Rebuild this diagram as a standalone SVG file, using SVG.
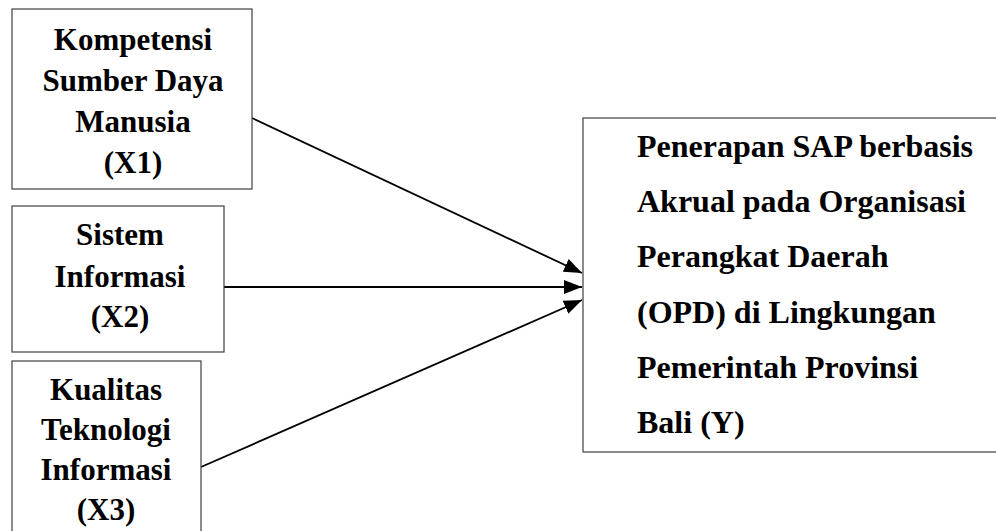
<svg xmlns="http://www.w3.org/2000/svg" width="996" height="531" viewBox="0 0 996 531">
  <style>
    .box { fill: #ffffff; stroke: #404040; stroke-width: 1.2; }
    .lbl { font-family: "Liberation Serif", "Times New Roman", serif; font-weight: bold; font-size: 31px; fill: #000000; }
    .big { font-size: 32px; }
    .mid { text-anchor: middle; }
    .edge { stroke: #000000; stroke-width: 1.8; fill: none; marker-end: url(#arrow); }
  </style>
  <defs>
    <marker id="arrow" markerUnits="userSpaceOnUse" markerWidth="20" markerHeight="16" refX="18" refY="7" orient="auto">
      <path d="M0,0 L18,7 L0,14 Z" fill="#000000"/>
    </marker>
  </defs>
  <rect width="996" height="531" fill="#ffffff"/>

  <g id="connectors">
    <line class="edge" x1="252" y1="118" x2="582" y2="273"/>
    <line class="edge" x1="224" y1="287" x2="582" y2="287"/>
    <line class="edge" x1="201" y1="467" x2="582" y2="300"/>
  </g>

  <g id="x1">
    <rect class="box" x="12" y="9" width="240" height="180"/>
    <text class="lbl mid" x="133" y="50">Kompetensi</text>
    <text class="lbl mid" x="133" y="91">Sumber Daya</text>
    <text class="lbl mid" x="133" y="132">Manusia</text>
    <text class="lbl mid" x="133" y="173">(X1)</text>
  </g>

  <g id="x2">
    <rect class="box" x="12" y="206" width="212" height="146"/>
    <text class="lbl mid" x="120" y="245">Sistem</text>
    <text class="lbl mid" x="120" y="287">Informasi</text>
    <text class="lbl mid" x="120" y="327">(X2)</text>
  </g>

  <g id="x3">
    <rect class="box" x="12" y="361" width="189" height="190"/>
    <text class="lbl mid" x="106" y="400">Kualitas</text>
    <text class="lbl mid" x="106" y="440">Teknologi</text>
    <text class="lbl mid" x="106" y="480">Informasi</text>
    <text class="lbl mid" x="106" y="520">(X3)</text>
  </g>

  <g id="y">
    <rect class="box" x="583" y="118" width="430" height="334"/>
    <text class="lbl big" x="637" y="157">Penerapan SAP berbasis</text>
    <text class="lbl big" x="637" y="212">Akrual pada Organisasi</text>
    <text class="lbl big" x="637" y="267">Perangkat Daerah</text>
    <text class="lbl big" x="637" y="323">(OPD) di Lingkungan</text>
    <text class="lbl big" x="637" y="378">Pemerintah Provinsi</text>
    <text class="lbl big" x="637" y="433">Bali (Y)</text>
  </g>
</svg>
